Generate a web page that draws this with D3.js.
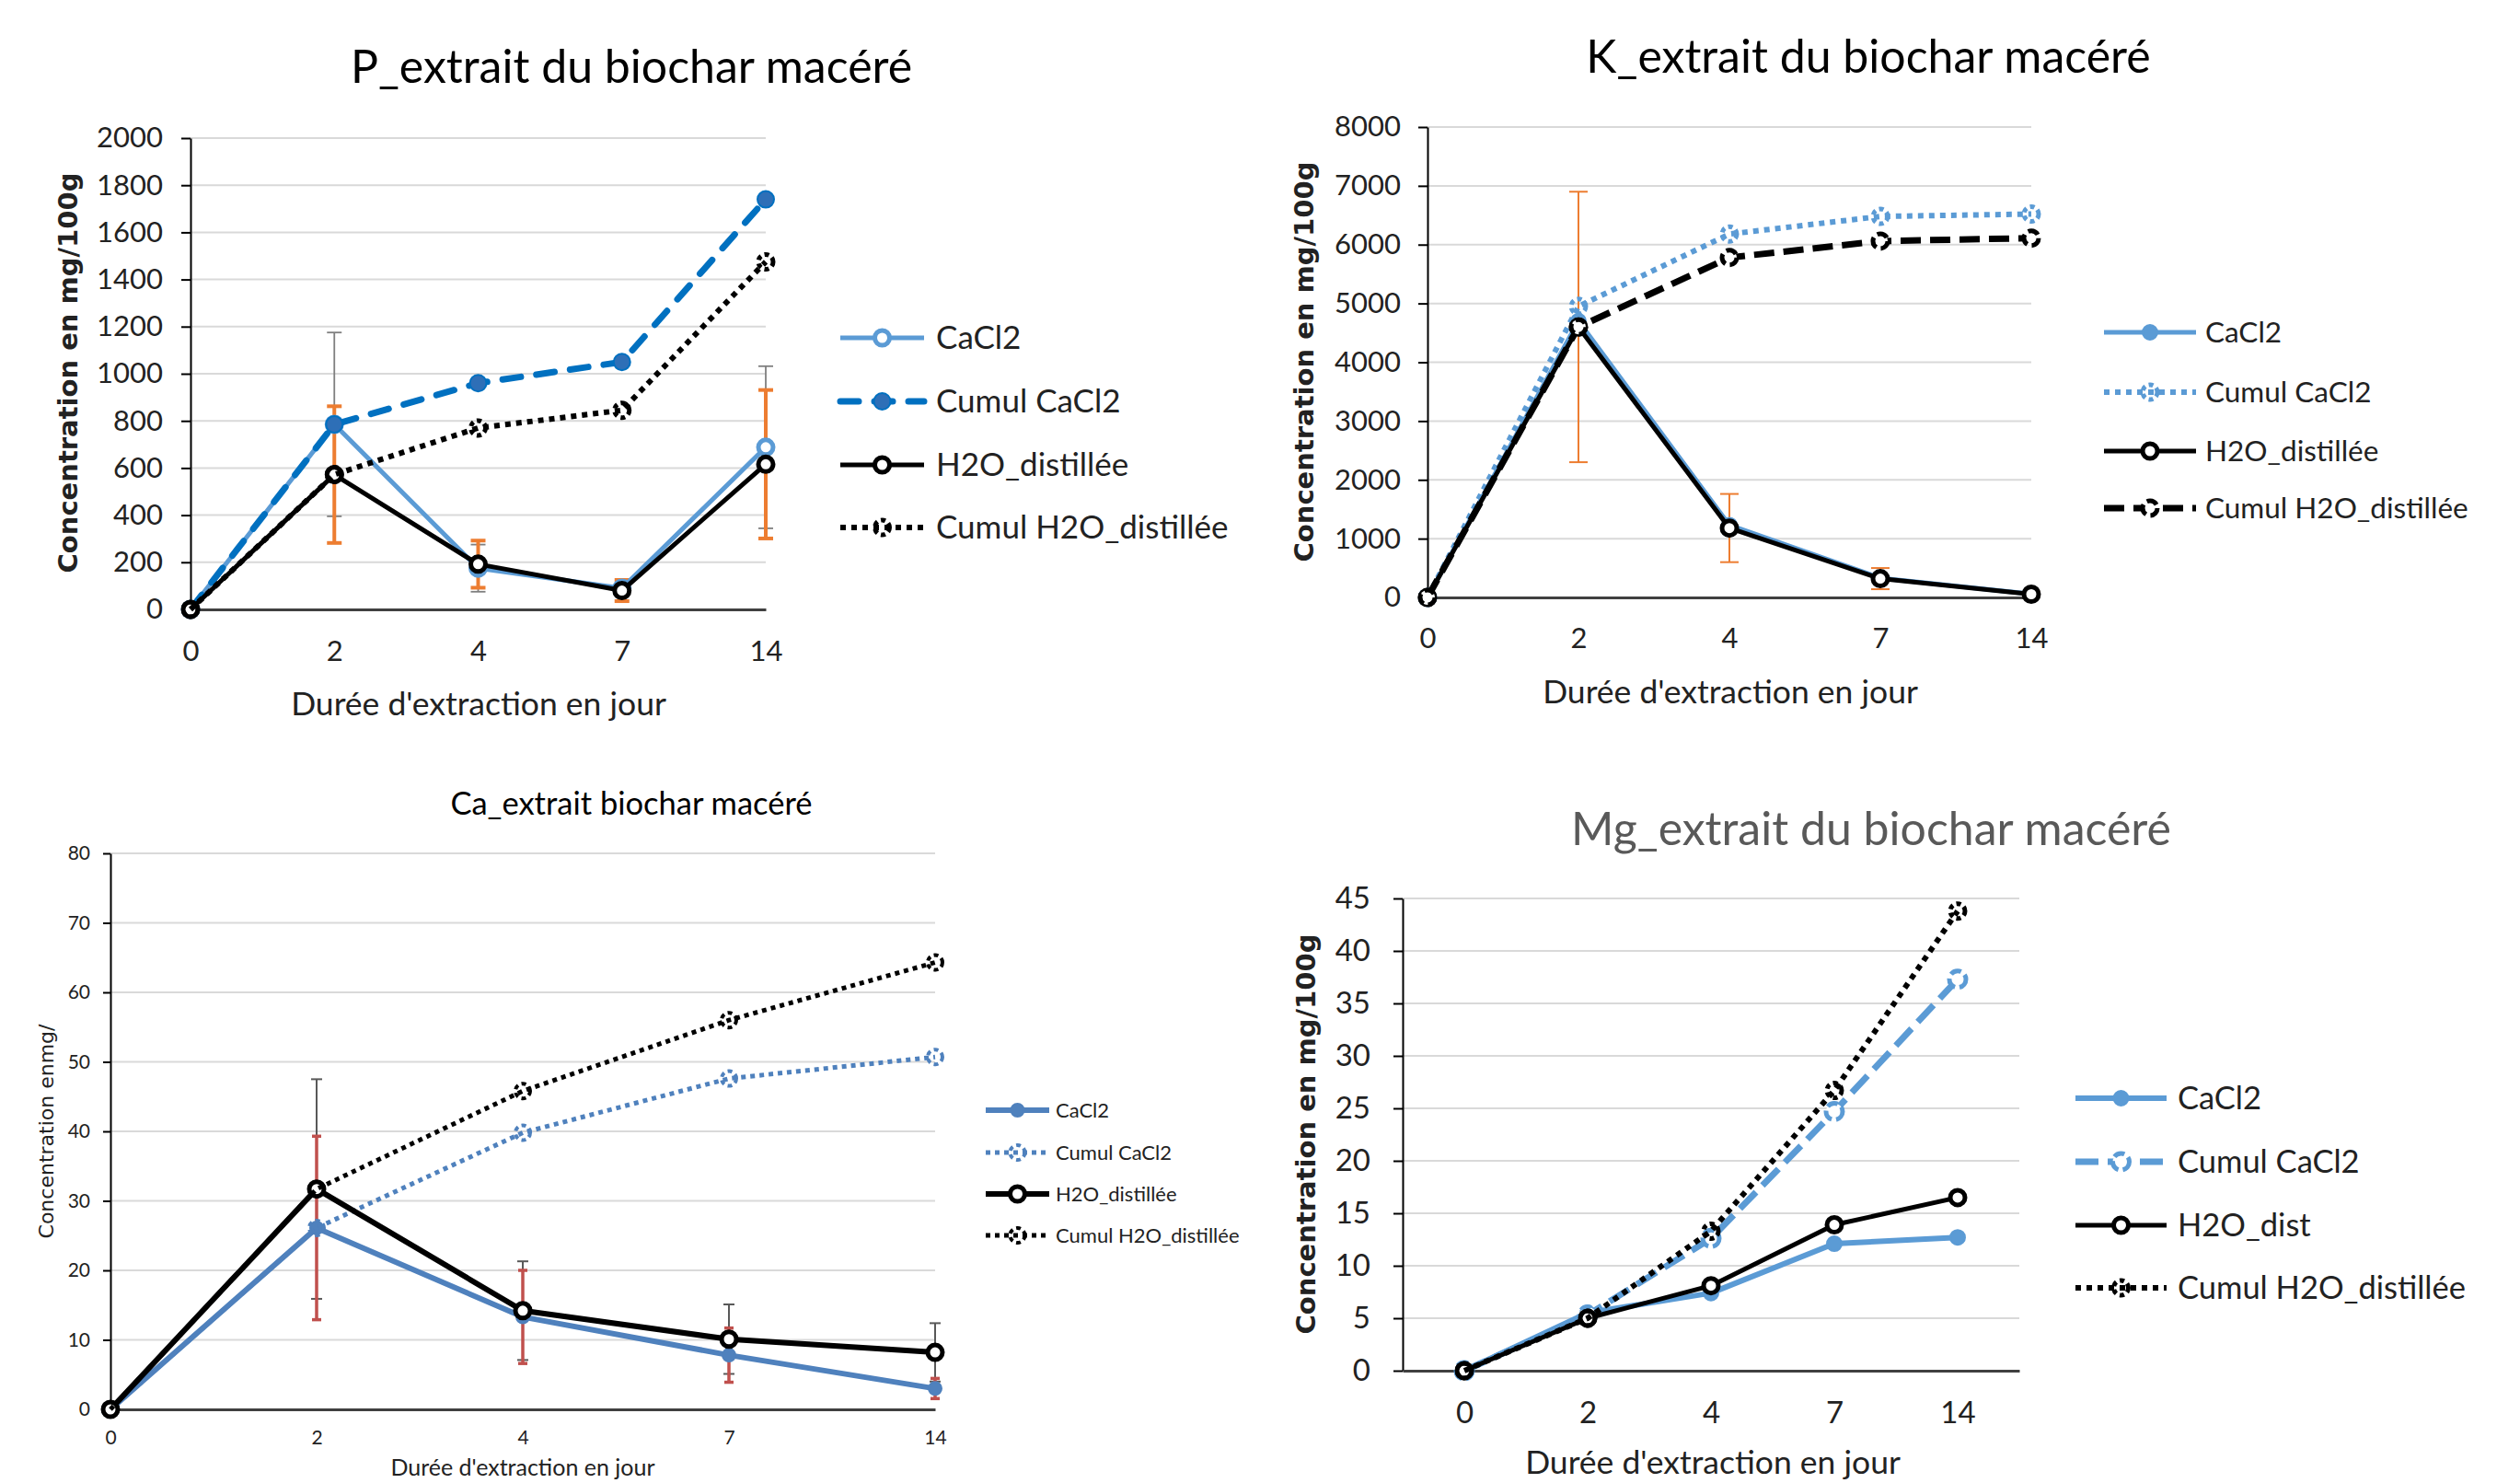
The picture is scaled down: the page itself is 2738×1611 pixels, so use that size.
<!DOCTYPE html>
<html>
<head>
<meta charset="utf-8">
<script src="https://cdn.jsdelivr.net/npm/d3@7"></script>
<style>
    body { margin: 0; background: #fff; }
    svg { display: block; }
</style>
</head>
<body>
<svg id="chart" width="2738" height="1611"></svg>
<script>
// categories: extraction days
const days = ["0", "2", "4", "7", "14"];

// P_extrait (mg/100g)
const pTicks = [0, 200, 400, 600, 800, 1000, 1200, 1400, 1600, 1800, 2000];
const pCaCl2 = [0, 785, 175, 90, 688];
const pCumulCaCl2 = [0, 785, 960, 1050, 1740];
const pH2O = [0, 572, 192, 80, 616];
const pCumulH2O = [0, 572, 770, 845, 1475];
const pErrCaCl2 = [0, 390, 100, 0, 344];
const pErrH2O = [0, 290, 100, 45, 315];

// K_extrait (mg/100g)
const kTicks = [0, 1000, 2000, 3000, 4000, 5000, 6000, 7000, 8000];
const kCaCl2 = [0, 4700, 1230, 330, 60];
const kCumulCaCl2 = [0, 4950, 6180, 6480, 6520];
const kH2O = [0, 4600, 1180, 320, 55];
const kCumulH2O = [0, 4600, 5780, 6060, 6110];
const kErrH2O = [0, 2300, 580, 180, 30];

// Ca_extrait
const caTicks = [0, 10, 20, 30, 40, 50, 60, 70, 80];
const caCaCl2 = [0, 26.1, 13.3, 7.8, 3.0];
const caCumulCaCl2 = [0, 26.1, 39.8, 47.6, 50.7];
const caH2O = [0, 31.7, 14.2, 10.1, 8.2];
const caCumulH2O = [0, 31.7, 45.8, 56.0, 64.3];
const caErrCaCl2 = [0, 13.2, 6.7, 3.9, 1.45];
const caErrH2O = [0, 15.8, 7.1, 5.0, 4.2];

// Mg_extrait (mg/100g)
const mgTicks = [0, 5, 10, 15, 20, 25, 30, 35, 40, 45];
const mgCaCl2 = [0, 5.5, 7.4, 12.1, 12.7];
const mgCumulCaCl2 = [0, 5.3, 12.6, 24.7, 37.3];
const mgH2O = [0, 5.0, 8.1, 13.9, 16.5];
const mgCumulH2O = [0, 5.0, 13.3, 26.7, 43.8];

const svg = d3.select("#chart");
const fontMain = "Lato, 'Open Sans', sans-serif";
const fontYTitle = "'DejaVu Sans', Verdana, sans-serif";

/**
 * Draw one marker (circle) with the series style
 */
let drawMarker = (g, cx, cy, m) => {
    g.append("circle")
        .attr("cx", cx)
        .attr("cy", cy)
        .attr("r", m.r)
        .attr("fill", m.fill)
        .attr("stroke", m.stroke)
        .attr("stroke-width", m.sw)
        .attr("stroke-dasharray", m.dash || null);
};

/**
 * Draw one complete chart panel
 */
let drawChart = (cfg) => {
    const g = svg.append("g");

    const x = d3.scalePoint()
        .domain(days)
        .range([cfg.left, cfg.right])
        .padding(cfg.pad);

    const y = d3.scaleLinear()
        .domain([0, cfg.ticks[cfg.ticks.length - 1]])
        .range([cfg.bottom, cfg.top]);

    // gridlines
    g.append("g")
        .selectAll("line")
        .data(cfg.ticks.slice(1))
        .join("line")
        .attr("x1", cfg.left)
        .attr("x2", cfg.right)
        .attr("y1", d => y(d))
        .attr("y2", d => y(d))
        .attr("stroke", "#d9d9d9")
        .attr("stroke-width", 2);

    // y axis
    const yAxis = g.append("g")
        .attr("transform", `translate(${cfg.left},0)`)
        .call(d3.axisLeft(y)
            .tickValues(cfg.ticks)
            .tickFormat(d3.format("d"))
            .tickSize(cfg.tickLen)
            .tickSizeOuter(0)
            .tickPadding(cfg.tickPad));
    yAxis.select(".domain").attr("stroke", "#000").attr("stroke-width", 2);
    yAxis.selectAll(".tick line").attr("stroke", "#000").attr("stroke-width", 2);
    yAxis.selectAll("text")
        .attr("font-family", fontMain)
        .attr("font-size", cfg.tickFont)
        .attr("fill", "#222");

    // x axis
    const xAxis = g.append("g")
        .attr("transform", `translate(0,${cfg.bottom})`)
        .call(d3.axisBottom(x).tickSize(0).tickSizeOuter(0));
    xAxis.select(".domain").attr("stroke", "#404040").attr("stroke-width", 3);
    xAxis.selectAll("text")
        .attr("y", cfg.xLabelOffset)
        .attr("dy", "0.35em")
        .attr("font-family", fontMain)
        .attr("font-size", cfg.tickFont)
        .attr("fill", "#222");
    g.selectAll(".domain").attr("fill", "none");

    // error bars (under the lines)
    cfg.errors.forEach(e => {
        const eg = g.append("g");
        days.forEach((d, i) => {
            if (!e.err[i]) return;
            const cx = x(d), y1 = y(e.values[i] + e.err[i]), y2 = y(e.values[i] - e.err[i]);
            eg.append("line").attr("x1", cx).attr("x2", cx).attr("y1", y1).attr("y2", y2)
                .attr("stroke", e.color).attr("stroke-width", e.width);
            [y1, y2].forEach(yy => {
                eg.append("line").attr("x1", cx - e.cap / 2).attr("x2", cx + e.cap / 2)
                    .attr("y1", yy).attr("y2", yy)
                    .attr("stroke", e.color).attr("stroke-width", e.width);
            });
        });
    });

    // series lines and markers
    const line = d3.line()
        .x((d, i) => x(days[i]))
        .y(d => y(d));

    cfg.series.forEach(s => {
        const sg = g.append("g");
        sg.append("path")
            .attr("d", line(s.values))
            .attr("fill", "none")
            .attr("stroke", s.color)
            .attr("stroke-width", s.width)
            .attr("stroke-dasharray", s.dash || null)
            .attr("stroke-linecap", s.cap || "butt")
            .attr("stroke-linejoin", "round");
        s.values.forEach((v, i) => drawMarker(sg, x(days[i]), y(v), s.marker));
    });

    // titles
    g.append("text")
        .attr("x", cfg.title.x)
        .attr("y", cfg.title.y)
        .attr("dy", "0.35em")
        .attr("text-anchor", "middle")
        .attr("font-family", fontMain)
        .attr("font-size", cfg.title.size)
        .attr("fill", cfg.title.color)
        .text(cfg.title.text);

    g.append("text")
        .attr("transform", `translate(${cfg.yTitle.x},${cfg.yTitle.y}) rotate(-90)`)
        .attr("dy", "0.35em")
        .attr("text-anchor", "middle")
        .attr("font-family", fontYTitle)
        .attr("font-weight", cfg.yTitle.bold ? "bold" : "normal")
        .attr("font-size", cfg.yTitle.size)
        .attr("fill", "#222")
        .text(cfg.yTitle.text);

    g.append("text")
        .attr("x", cfg.xTitle.x)
        .attr("y", cfg.xTitle.y)
        .attr("dy", "0.35em")
        .attr("text-anchor", "middle")
        .attr("font-family", fontMain)
        .attr("font-size", cfg.xTitle.size)
        .attr("fill", "#222")
        .text("Durée d'extraction en jour");

    // legend
    const lg = cfg.legend;
    cfg.series.forEach((s, i) => {
        const ly = lg.rows[i];
        const row = g.append("g");
        row.append("line")
            .attr("x1", lg.x1).attr("x2", lg.x2)
            .attr("y1", ly).attr("y2", ly)
            .attr("stroke", s.color)
            .attr("stroke-width", s.width)
            .attr("stroke-dasharray", s.dash || null)
            .attr("stroke-linecap", s.cap || "butt");
        drawMarker(row, (lg.x1 + lg.x2) / 2, ly, s.marker);
        row.append("text")
            .attr("x", lg.tx)
            .attr("y", ly)
            .attr("dy", "0.35em")
            .attr("font-family", fontMain)
            .attr("font-size", lg.size)
            .attr("fill", "#222")
            .text(s.name);
    });
};

const lightBlue = "#5B9BD5";

// ---- P ----
drawChart({
    left: 207, right: 832, top: 150, bottom: 662, pad: 0,
    ticks: pTicks, tickFont: 31, tickLen: 10, tickPad: 20, xLabelOffset: 45,
    title: { x: 686, y: 72, size: 50, color: "#000", text: "P_extrait du biochar macéré" },
    yTitle: { x: 74, y: 405, size: 29, bold: true, text: "Concentration en mg/100g" },
    xTitle: { x: 520, y: 765, size: 35.5 },
    legend: { x1: 913, x2: 1004, tx: 1017, rows: [367, 436, 505, 573], size: 35 },
    errors: [
        { values: pCaCl2, err: pErrCaCl2, color: "#7f7f7f", width: 1.8, cap: 16 },
        { values: pH2O, err: pErrH2O, color: "#ED7D31", width: 4, cap: 16 }
    ],
    series: [
        { name: "CaCl2", values: pCaCl2, color: lightBlue, width: 5,
          marker: { r: 8, fill: "#fff", stroke: lightBlue, sw: 5 } },
        { name: "Cumul CaCl2", values: pCumulCaCl2, color: "#0070C0", width: 7, dash: "20,17", cap: "round",
          marker: { r: 9, fill: "#2E6FB7", stroke: "#0070C0", sw: 2 } },
        { name: "H2O_distillée", values: pH2O, color: "#000", width: 5,
          marker: { r: 8, fill: "#fff", stroke: "#000", sw: 5 } },
        { name: "Cumul H2O_distillée", values: pCumulH2O, color: "#000", width: 6, dash: "6,6",
          marker: { r: 8, fill: "none", stroke: "#000", sw: 5, dash: "5,4" } }
    ]
});

// ---- K ----
drawChart({
    left: 1551, right: 2207, top: 138, bottom: 649, pad: 0,
    ticks: kTicks, tickFont: 31, tickLen: 10, tickPad: 19, xLabelOffset: 44,
    title: { x: 2030, y: 61, size: 50, color: "#000", text: "K_extrait du biochar macéré" },
    yTitle: { x: 1417, y: 393, size: 29, bold: true, text: "Concentration en mg/100g" },
    xTitle: { x: 1880, y: 752, size: 35.5 },
    legend: { x1: 2286, x2: 2386, tx: 2396, rows: [361, 426, 490, 552], size: 31.5 },
    errors: [
        { values: kH2O, err: kErrH2O, color: "#ED7D31", width: 2, cap: 20 }
    ],
    series: [
        { name: "CaCl2", values: kCaCl2, color: lightBlue, width: 5,
          marker: { r: 8, fill: lightBlue, stroke: lightBlue, sw: 2 } },
        { name: "Cumul CaCl2", values: kCumulCaCl2, color: lightBlue, width: 6, dash: "6,6",
          marker: { r: 8, fill: "none", stroke: lightBlue, sw: 5, dash: "5,4" } },
        { name: "H2O_distillée", values: kH2O, color: "#000", width: 5,
          marker: { r: 8, fill: "#fff", stroke: "#000", sw: 5 } },
        { name: "Cumul H2O_distillée", values: kCumulH2O, color: "#000", width: 7, dash: "22,10",
          marker: { r: 8, fill: "#fff", stroke: "#000", sw: 5, dash: "12,5" } }
    ]
});

// ---- Ca ----
drawChart({
    left: 120, right: 1016, top: 927, bottom: 1531, pad: 0,
    ticks: caTicks, tickFont: 21, tickLen: 8, tickPad: 14, xLabelOffset: 31,
    title: { x: 686, y: 873, size: 34.5, color: "#000", text: "Ca_extrait biochar macéré" },
    yTitle: { x: 50, y: 1229, size: 22, bold: false, text: "Concentration enmg/" },
    xTitle: { x: 568, y: 1594, size: 25 },
    legend: { x1: 1071, x2: 1140, tx: 1147, rows: [1206, 1252, 1297, 1342], size: 22 },
    errors: [
        { values: caH2O, err: caErrH2O, color: "#595959", width: 2, cap: 12 },
        { values: caCaCl2, err: caErrCaCl2, color: "#C0504D", width: 3.5, cap: 10 }
    ],
    series: [
        { name: "CaCl2", values: caCaCl2, color: "#4F81BD", width: 6,
          marker: { r: 7, fill: "#4F81BD", stroke: "#4F81BD", sw: 2 } },
        { name: "Cumul CaCl2", values: caCumulCaCl2, color: "#4F81BD", width: 5, dash: "5,5",
          marker: { r: 8, fill: "none", stroke: "#4F81BD", sw: 4, dash: "5,4" } },
        { name: "H2O_distillée", values: caH2O, color: "#000", width: 6,
          marker: { r: 8, fill: "#fff", stroke: "#000", sw: 5 } },
        { name: "Cumul H2O_distillée", values: caCumulH2O, color: "#000", width: 5, dash: "5,5",
          marker: { r: 8, fill: "none", stroke: "#000", sw: 4, dash: "5,4" } }
    ]
});

// ---- Mg ----
drawChart({
    left: 1524, right: 2194, top: 976, bottom: 1489, pad: 0.5,
    ticks: mgTicks, tickFont: 33, tickLen: 10, tickPad: 25, xLabelOffset: 45,
    title: { x: 2033, y: 900, size: 50, color: "#595959", text: "Mg_extrait du biochar macéré" },
    yTitle: { x: 1419, y: 1232, size: 29, bold: true, text: "Concentration en mg/100g" },
    xTitle: { x: 1861, y: 1589, size: 35.5 },
    legend: { x1: 2255, x2: 2354, tx: 2366, rows: [1193, 1262, 1331, 1399], size: 34.5 },
    errors: [],
    series: [
        { name: "CaCl2", values: mgCaCl2, color: lightBlue, width: 6,
          marker: { r: 8, fill: lightBlue, stroke: lightBlue, sw: 2 } },
        { name: "Cumul CaCl2", values: mgCumulCaCl2, color: lightBlue, width: 7, dash: "25,10",
          marker: { r: 9, fill: "#fff", stroke: lightBlue, sw: 5, dash: "12,5" } },
        { name: "H2O_dist", values: mgH2O, color: "#000", width: 5,
          marker: { r: 8, fill: "#fff", stroke: "#000", sw: 5 } },
        { name: "Cumul H2O_distillée", values: mgCumulH2O, color: "#000", width: 6, dash: "6,6",
          marker: { r: 8, fill: "none", stroke: "#000", sw: 5, dash: "5,4" } }
    ]
});
</script>
</body>
</html>
